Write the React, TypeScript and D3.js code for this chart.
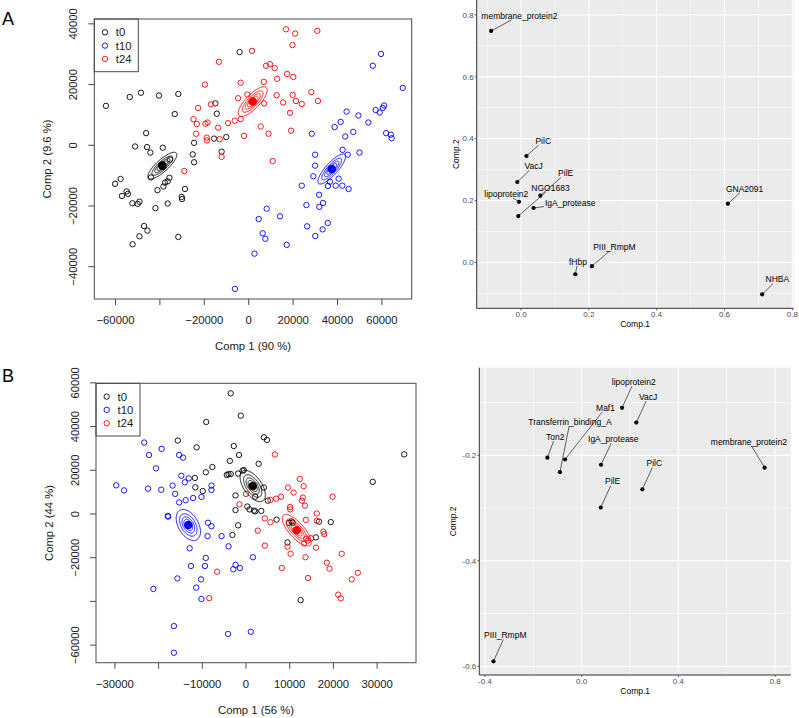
import React from "react";
import * as d3 from "d3";

type Pt = [number, number];

const FONT = "'Liberation Sans', Arial, Helvetica, sans-serif";

// ---------------- Panel A (scores) ----------------
const groupNames = ["t0", "t10", "t24"];

const scoresA_t0: Pt[] = [
  [-64300, 13000], [-53600, 15900], [-48500, 17300], [-40400, 16400], [-31700, 16900], [-33300, 10300],
  [-15000, 13800], [-14400, 10400], [-4100, 30700], [-46200, 4000], [-51200, -400], [-45800, -600],
  [-44300, -2400], [-38700, -800], [-35400, -4700], [-44000, -10600], [-37700, -12300], [-36500, -11900],
  [-35700, -10700], [-38400, -13600], [-41100, -14800], [-36500, -19200], [-24600, 800], [-25200, -3000],
  [-24600, -5600], [-28700, -14400], [-30200, -17000], [-30000, -17700], [-60200, -12700], [-57700, -11100],
  [-57100, -16700], [-55000, -15200], [-54400, -16000], [-52400, -19100], [-50000, -19300], [-49200, -18600],
  [-42000, -20700], [-47100, -26600], [-45600, -28100], [-49200, -30000], [-52300, -32600], [-31700, -30200],
  [-15600, 2200], [-10100, 2700], [-12200, -2100],
];
const scoresA_t10: Pt[] = [
  [59600, 30100], [55900, 26200], [69400, 18900], [44100, 11100], [49400, 9800], [57200, 11600],
  [59000, 10800], [60400, 12300], [61000, 13100], [53900, 7500], [41400, 7700], [38700, 6000],
  [47100, 4400], [43500, 2900], [28400, 3800], [61900, 4000], [64000, 3500], [64400, 2300],
  [42300, -1500], [44600, -3100], [49900, -2400], [29900, -3100], [29900, -6700], [29100, -10200],
  [40500, -11000], [39200, -13300], [35700, -13400], [42200, -13300], [45000, -14400], [23900, -13300],
  [31700, -16300], [33500, -19000], [31800, -20300], [26000, -19700], [8100, -20900], [14100, -23400],
  [4500, -24300], [6300, -29000], [7500, -30800], [26300, -26700], [30000, -29900], [33300, -27700],
  [35600, -25600], [17100, -32800], [2600, -35700], [-6200, -47300], [36600, -12000],
];
const scoresA_t24: Pt[] = [
  [16800, 38200], [20900, 36800], [30900, 37700], [19700, 33000], [1500, 31100], [-13400, 27500],
  [-19700, 20000], [-3600, 20600], [7800, 26200], [9600, 26700], [11700, 25400], [12800, 21900],
  [17300, 23500], [20100, 22500], [6800, 20900], [-22800, 12300], [-17000, 13500], [-4800, 15500],
  [-600, 16700], [6900, 13800], [12600, 16500], [15500, 14100], [19800, 16600], [21300, 14600],
  [23900, 13600], [28200, 17500], [31200, 14600], [18600, 10700], [-24900, 8600], [-23400, 7000],
  [-19500, 7100], [-18500, 7500], [-13800, 5800], [-9300, 7300], [-6300, 8100], [-3600, 8600],
  [5400, 6200], [8900, 3800], [19100, 4800], [-2100, 3100], [-23700, 3800], [-18900, 2500],
  [-18800, 1600], [-13100, 2000], [-12200, -3800], [10800, -5200], [-29000, -8500],
];
const centroidsA: Pt[] = [[-38900, -6700], [37400, -7800], [1800, 14400]];
const ellipseCovA = [
  { sx: 6540, sy: 4400, rho: 0.815 },
  { sx: 6210, sy: 4960, rho: 0.826 },
  { sx: 6510, sy: 4890, rho: 0.772 },
];
const xTicksA = [-60000, -40000, -20000, 0, 20000, 40000, 60000];
const xTickLabelsA = ["\u221260000", "", "\u221220000", "0", "20000", "40000", "60000"];
const yTicksA = [-40000, -20000, 0, 20000, 40000];
const yTickLabelsA = ["\u221240000", "\u221220000", "0", "20000", "40000"];
const xTitleA = "Comp 1 (90 %)";
const yTitleA = "Comp 2 (9.6 %)";

// ---------------- Panel B (scores) ----------------
const scoresB_t0: Pt[] = [
  [-3500, 55200], [-1200, 45000], [-9100, 42100], [-15600, 33600], [-11300, 30500], [-2800, 31100],
  [-1600, 27000], [4100, 35100], [4800, 33900], [-3700, 24300], [2900, 23000], [-7700, 21500],
  [-9200, 19100], [-11700, 16500], [-11600, 12200], [-9900, 10500], [-4400, 17900], [-4000, 18200],
  [-3500, 18300], [-1800, 18500], [-800, 19800], [-500, 20100], [-2400, 8500], [-2400, 1800],
  [-1800, -5200], [-3100, -9600], [300, 3400], [800, 2100], [2100, 7900], [1800, 1500],
  [2100, 1200], [3500, 1400], [4100, 12100], [5000, 6100], [7000, -2600], [29000, 14700],
  [36200, 27300], [9500, -13000], [9800, -4100], [10400, -3400], [10700, -4000], [16000, -10700],
  [16700, -3500], [19400, -3700], [12500, -39400],
];
const scoresB_t10: Pt[] = [
  [-23300, 32700], [-22200, 27000], [-19300, 29800], [-15300, 27000], [-14400, 25800], [-20600, 20900],
  [-29700, 13100], [-27900, 10800], [-22400, 11600], [-19400, 11100], [-16800, 13000], [-16200, 9200],
  [-15300, 5300], [-14800, 17500], [-14000, 14500], [-13100, 16300], [-13800, 6300], [-12100, 7300],
  [-10200, 7800], [-7900, 13000], [-7900, 11000], [-17900, -900], [-17800, -1200], [-8700, -4000],
  [-7900, -5600], [-8800, -10100], [-5600, -10100], [-12900, -15700], [-4000, -14800], [-9200, -20100],
  [-9400, -23800], [-12600, -23800], [-2400, -23300], [-2900, -25300], [-1400, -24700], [1600, -19800],
  [-15700, -29500], [-10300, -29900], [-11400, -33700], [-21200, -34300], [-10200, -38900], [-16500, -51300],
  [-4100, -54900], [1100, -53900], [-16500, -63500],
];
const scoresB_t24: Pt[] = [
  [6600, 27200], [12300, 16000], [9600, 12100], [13200, 12700], [10900, 9800], [19800, 7900],
  [13000, 7500], [12800, 6100], [13500, 3800], [8000, 7900], [6900, 7000], [5600, 6400],
  [0, 9200], [-1500, 4400], [16200, 200], [10100, 3200], [10100, 2100], [2700, -7600],
  [4300, -2000], [5600, -3800], [13700, -2700], [16200, -3100], [16000, -15400], [13800, -11300],
  [13300, -13400], [14100, -12200], [14900, -11100], [17700, -8100], [17900, -9200], [9500, -15000],
  [10200, -18200], [13600, -19800], [4300, -14500], [8200, -24700], [18500, -22300], [19100, -25000],
  [21900, -18200], [14200, -29300], [24200, -29900], [25600, -26900], [21100, -36900], [21700, -38600],
  [-6600, -26400], [-8400, -38500],
];
const centroidsB: Pt[] = [[1530, 12800], [-13200, -5040], [11600, -7470]];
const ellipseCovB = [
  { sx: 2900, sy: 7150, rho: -0.576 },
  { sx: 2780, sy: 7120, rho: -0.434 },
  { sx: 3320, sy: 7180, rho: -0.751 },
];
const xTicksB = [-30000, -20000, -10000, 0, 10000, 20000, 30000];
const xTickLabelsB = ["\u221230000", "", "\u221210000", "0", "10000", "20000", "30000"];
const yTicksB = [-60000, -40000, -20000, 0, 20000, 40000, 60000];
const yTickLabelsB = ["\u221260000", "", "\u221220000", "0", "20000", "40000", "60000"];
const xTitleB = "Comp 1 (56 %)";
const yTitleB = "Comp 2 (44 %)";

const ellipseLevels = [0.36, 0.52, 0.72, 1];

// ---------------- Loadings ----------------
const loadA_names = ["membrane_protein2", "PilC", "VacJ", "PilE", "NGO1683", "lipoprotein2", "IgA_protease", "GNA2091", "PIII_RmpM", "fHbp", "NHBA"];
const loadA_x = [-0.088, 0.016, -0.011, 0.057, -0.008, -0.006, 0.037, 0.61, 0.209, 0.16, 0.711];
const loadA_y = [0.748, 0.344, 0.26, 0.216, 0.15, 0.196, 0.176, 0.19, -0.012, -0.038, -0.103];

const loadB_names = ["lipoprotein2", "VacJ", "Maf1", "Transferrin_binding_A", "Ton2", "IgA_protease", "membrane_protein2", "PilC", "PilE", "PIII_RmpM"];
const loadB_x = [0.167, 0.226, -0.069, -0.09, -0.142, 0.08, 0.757, 0.251, 0.079, -0.365];
const loadB_y = [-0.11, -0.138, -0.208, -0.232, -0.2045, -0.218, -0.2235, -0.2645, -0.299, -0.5905];

const xMajorA = [0, 0.2, 0.4, 0.6, 0.8];
const xMinorA = [-0.1, 0.1, 0.3, 0.5, 0.7];
const yMajorA = [0, 0.2, 0.4, 0.6, 0.8];
const yMinorA = [-0.1, 0.1, 0.3, 0.5, 0.7];
const xMajorLabelsA = ["0.0", "0.2", "0.4", "0.6", "0.8"];
const yMajorLabelsA = ["0.0", "0.2", "0.4", "0.6", "0.8"];

const xMajorB = [-0.4, 0, 0.4, 0.8];
const xMinorB = [-0.2, 0.2, 0.6];
const yMajorB = [-0.6, -0.4, -0.2];
const yMinorB = [-0.5, -0.3, -0.1];
const xMajorLabelsB = ["-0.4", "0.0", "0.4", "0.8"];
const yMajorLabelsB = ["-0.6", "-0.4", "-0.2"];

// layout (pixel) settings for repelled labels: offset of label centre from point
const labelOffsetsA: Pt[] = [[28.2, -15.3], [16.8, -15], [16.3, -15.7], [25.3, -22.3], [32.2, -28], [-12.7, -8], [36.7, -5], [16.7, -15], [22.5, -19.3], [2.7, -12.7], [15.2, -15]];
const labelOffsetsB: Pt[] = [[11.7, -25.7], [11.8, -25.7], [40.5, -51.7], [10, -50], [7.8, -20.7], [12.3, -26], [-15.8, -26], [12, -26], [11.8, -26], [11.8, -26]];

const groupColors = ["#000000", "#0000FF", "#FF0000"];

let ctx: CanvasRenderingContext2D | null = null;
function measure(text: string, size: number): number {
  if (!ctx && typeof document !== "undefined") ctx = document.createElement("canvas").getContext("2d");
  if (!ctx) return text.length * size * 0.53;
  ctx.font = `${size}px ${FONT}`;
  return ctx.measureText(text).width;
}

type Box = { left: number; top: number; right: number; bottom: number };
type Cov = { sx: number; sy: number; rho: number };

function ellipsePath(c: Pt, cov: Cov, k: number, xs: d3.ScaleLinear<number, number>, ys: d3.ScaleLinear<number, number>) {
  const pts: Pt[] = d3.range(0, 121).map((i) => {
    const t = (i / 120) * 2 * Math.PI;
    const u = Math.cos(t), v = Math.sin(t);
    const dx = cov.sx * u;
    const dy = cov.sy * (cov.rho * u + Math.sqrt(1 - cov.rho * cov.rho) * v);
    return [xs(c[0] + k * dx), ys(c[1] + k * dy)];
  });
  return d3.line().curve(d3.curveLinearClosed)(pts) || "";
}

const R_FS = 11.3;
const R_COL = "#1a1a1a";
const BOX_COL = "#4a4a4a";

function RScatter(props: {
  box: Box; xDomain: Pt; yDomain: Pt;
  xTicks: number[]; xTickLabels: string[]; yTicks: number[]; yTickLabels: string[];
  xTitle: string; yTitle: string;
  groups: Pt[][]; centroids: Pt[]; covs: Cov[];
}) {
  const { box } = props;
  const xs = d3.scaleLinear().domain(props.xDomain).range([box.left, box.right]);
  const ys = d3.scaleLinear().domain(props.yDomain).range([box.bottom, box.top]);
  const legW = 44, legH = 52.7;
  return (
    <g>
      {props.groups.map((pts, gi) => (
        <g key={gi}>
          {pts.map((p, i) => (
            <circle key={i} cx={xs(p[0])} cy={ys(p[1])} r={2.7} fill="none" stroke={groupColors[gi]} strokeWidth={0.9} />
          ))}
        </g>
      ))}
      {props.centroids.map((c, gi) => (
        <g key={gi}>
          {ellipseLevels.map((k, j) => (
            <path key={j} d={ellipsePath(c, props.covs[gi], k, xs, ys)} fill="none" stroke={groupColors[gi]} strokeWidth={0.9} />
          ))}
          <circle cx={xs(c[0])} cy={ys(c[1])} r={4.3} fill={groupColors[gi]} />
        </g>
      ))}
      {/* legend */}
      <rect x={box.left} y={box.top} width={legW} height={legH} fill="white" stroke={BOX_COL} strokeWidth={1} />
      {groupNames.map((g, i) => (
        <g key={g}>
          <circle cx={box.left + 10.7} cy={box.top + 13.3 * (i + 1)} r={2.7} fill="none" stroke={groupColors[i]} strokeWidth={0.9} />
          <text x={box.left + 21.5} y={box.top + 13.3 * (i + 1)} dy="0.35em" fontSize={R_FS} fill={R_COL}>{g}</text>
        </g>
      ))}
      <rect x={box.left} y={box.top} width={box.right - box.left} height={box.bottom - box.top} fill="none" stroke={BOX_COL} strokeWidth={1} />
      {props.xTicks.map((t, i) => (
        <g key={i}>
          <line x1={xs(t)} x2={xs(t)} y1={box.bottom} y2={box.bottom + 6} stroke={BOX_COL} strokeWidth={1} />
          <text x={xs(t)} y={box.bottom + 21} dy="0.35em" textAnchor="middle" fontSize={R_FS} fill={R_COL}>{props.xTickLabels[i]}</text>
        </g>
      ))}
      {props.yTicks.map((t, i) => (
        <g key={i}>
          <line x1={box.left - 6} x2={box.left} y1={ys(t)} y2={ys(t)} stroke={BOX_COL} strokeWidth={1} />
          <text transform={`translate(${box.left - 21},${ys(t)}) rotate(-90)`} dy="0.35em" textAnchor="middle" fontSize={R_FS} fill={R_COL}>{props.yTickLabels[i]}</text>
        </g>
      ))}
      <text x={(box.left + box.right) / 2} y={box.bottom + 47} dy="0.35em" textAnchor="middle" fontSize={R_FS} fill={R_COL}>{props.xTitle}</text>
      <text transform={`translate(${box.left - 47},${(box.top + box.bottom) / 2}) rotate(-90)`} dy="0.35em" textAnchor="middle" fontSize={R_FS} fill={R_COL}>{props.yTitle}</text>
    </g>
  );
}

const G_FS = 8.5;

function Loadings(props: {
  box: Box; xDomain: Pt; yDomain: Pt;
  xMajor: number[]; xMinor: number[]; yMajor: number[]; yMinor: number[];
  xLabels: string[]; yLabels: string[];
  names: string[]; xv: number[]; yv: number[]; offsets: Pt[]; yTitleX: number;
}) {
  const { box } = props;
  const xs = d3.scaleLinear().domain(props.xDomain).range([box.left, box.right]);
  const ys = d3.scaleLinear().domain(props.yDomain).range([box.bottom, box.top]);
  return (
    <g>
      <rect x={box.left} y={box.top} width={box.right - box.left} height={box.bottom - box.top} fill="#EBEBEB" />
      {props.xMinor.map((t, i) => (
        <line key={"xm" + i} x1={xs(t)} x2={xs(t)} y1={box.top} y2={box.bottom} stroke="#FFFFFF" strokeWidth={0.5} />
      ))}
      {props.yMinor.map((t, i) => (
        <line key={"ym" + i} y1={ys(t)} y2={ys(t)} x1={box.left} x2={box.right} stroke="#FFFFFF" strokeWidth={0.5} />
      ))}
      {props.xMajor.map((t, i) => (
        <line key={"xM" + i} x1={xs(t)} x2={xs(t)} y1={box.top} y2={box.bottom} stroke="#FFFFFF" strokeWidth={1} />
      ))}
      {props.yMajor.map((t, i) => (
        <line key={"yM" + i} y1={ys(t)} y2={ys(t)} x1={box.left} x2={box.right} stroke="#FFFFFF" strokeWidth={1} />
      ))}
      {props.names.map((n, i) => {
        const px = xs(props.xv[i]), py = ys(props.yv[i]);
        const cx = px + props.offsets[i][0], cy = py + props.offsets[i][1];
        const hw = measure(n, G_FS) / 2 + 1, hh = G_FS * 0.5;
        const dx = cx - px, dy = cy - py;
        const s = Math.min(dx === 0 ? Infinity : hw / Math.abs(dx), dy === 0 ? Infinity : hh / Math.abs(dy));
        const ex = cx - s * dx, ey = cy - s * dy;
        const seg = s < 1 ? <line x1={px} y1={py} x2={ex} y2={ey} stroke="#000" strokeWidth={0.6} /> : null;
        return (
          <g key={n}>
            {seg}
            <circle cx={px} cy={py} r={2.1} fill="#000" />
            <text x={cx} y={cy} dy="0.35em" textAnchor="middle" fontSize={G_FS} fill="#000">{n}</text>
          </g>
        );
      })}
      <line x1={box.left} x2={box.left} y1={box.top} y2={box.bottom} stroke="#333" strokeWidth={1} />
      <line x1={box.left} x2={box.right} y1={box.bottom} y2={box.bottom} stroke="#333" strokeWidth={1} />
      {props.xMajor.map((t, i) => (
        <g key={"xt" + i}>
          <line x1={xs(t)} x2={xs(t)} y1={box.bottom} y2={box.bottom + 2} stroke="#333" strokeWidth={0.8} />
          <text x={xs(t)} y={box.bottom + 6.3} dy="0.35em" textAnchor="middle" fontSize={8} fill="#4D4D4D">{props.xLabels[i]}</text>
        </g>
      ))}
      {props.yMajor.map((t, i) => (
        <g key={"yt" + i}>
          <line x1={box.left - 2} x2={box.left} y1={ys(t)} y2={ys(t)} stroke="#333" strokeWidth={0.8} />
          <text x={box.left - 3} y={ys(t)} dy="0.35em" textAnchor="end" fontSize={8} fill="#4D4D4D">{props.yLabels[i]}</text>
        </g>
      ))}
      <text x={(box.left + box.right) / 2} y={box.bottom + 16} dy="0.35em" textAnchor="middle" fontSize={8.5} fill="#000">Comp.1</text>
      <text transform={`translate(${props.yTitleX},${(box.top + box.bottom) / 2}) rotate(-90)`} dy="0.35em" textAnchor="middle" fontSize={8.5} fill="#000">Comp.2</text>
    </g>
  );
}

export default function App() {
  return (
    <svg width={799} height={718} style={{ position: "absolute", left: 0, top: 0, display: "block" }} fontFamily={FONT}>
      <rect width={799} height={718} fill="#FFFFFF" />
      <text x={2} y={25} fontSize={18} fill="#000">A</text>
      <text x={2} y={382} fontSize={18} fill="#000">B</text>
      <RScatter
        box={{ left: 94.3, top: 19, right: 411.7, bottom: 299 }}
        xDomain={[-69550, 73420]} yDomain={[-50640, 41600]}
        xTicks={xTicksA} xTickLabels={xTickLabelsA} yTicks={yTicksA} yTickLabels={yTickLabelsA}
        xTitle={xTitleA} yTitle={yTitleA}
        groups={[scoresA_t0, scoresA_t10, scoresA_t24]} centroids={centroidsA} covs={ellipseCovA}
      />
      <RScatter
        box={{ left: 96, top: 383.3, right: 416, bottom: 662.7 }}
        xDomain={[-34325, 38900]} yDomain={[-68050, 59800]}
        xTicks={xTicksB} xTickLabels={xTickLabelsB} yTicks={yTicksB} yTickLabels={yTickLabelsB}
        xTitle={xTitleB} yTitle={yTitleB}
        groups={[scoresB_t0, scoresB_t10, scoresB_t24]} centroids={centroidsB} covs={ellipseCovB}
      />
      <Loadings
        box={{ left: 476.7, top: 0, right: 793.5, bottom: 308.3 }}
        xDomain={[-0.1307, 0.8035]} yDomain={[-0.148, 0.848]}
        xMajor={xMajorA} xMinor={xMinorA} yMajor={yMajorA} yMinor={yMinorA}
        xLabels={xMajorLabelsA} yLabels={yMajorLabelsA}
        names={loadA_names} xv={loadA_x} yv={loadA_y} offsets={labelOffsetsA} yTitleX={456}
      />
      <Loadings
        box={{ left: 479.3, top: 367.7, right: 791, bottom: 675 }}
        xDomain={[-0.4236, 0.866]} yDomain={[-0.6165, -0.034]}
        xMajor={xMajorB} xMinor={xMinorB} yMajor={yMajorB} yMinor={yMinorB}
        xLabels={xMajorLabelsB} yLabels={yMajorLabelsB}
        names={loadB_names} xv={loadB_x} yv={loadB_y} offsets={labelOffsetsB} yTitleX={453.3}
      />
    </svg>
  );
}
